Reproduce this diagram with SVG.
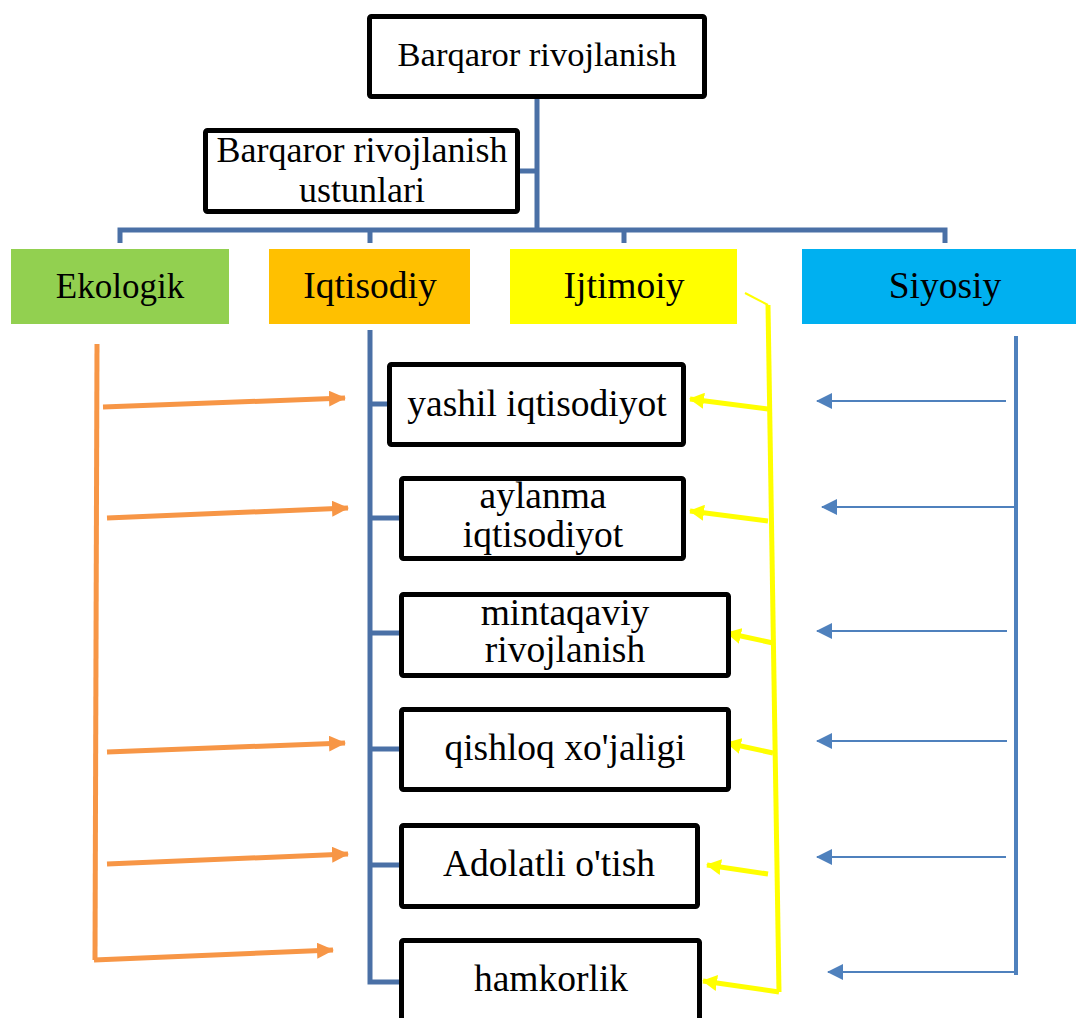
<svg xmlns="http://www.w3.org/2000/svg" width="1076" height="1018" viewBox="0 0 1076 1018">
<style>
.box{fill:#fff;stroke:#000;stroke-width:5;}
.t{font-family:"Liberation Serif","Times New Roman",serif;font-size:37.5px;fill:#000;text-anchor:middle;}
.tree{fill:none;stroke:#4A70A6;stroke-width:5;stroke-linejoin:miter;}
.or{fill:none;stroke:#F79646;stroke-width:5;}
.ye{fill:none;stroke:#FFFF00;stroke-width:5;}
.bl{fill:none;stroke:#4F81BD;stroke-width:2;}
</style>
<defs>
<marker id="aO" markerUnits="userSpaceOnUse" markerWidth="18" markerHeight="16" refX="16" refY="8" orient="auto">
<path d="M0,0 L17,8 L0,16 Z" fill="#F79646"/>
</marker>
<marker id="aY" markerUnits="userSpaceOnUse" markerWidth="16" markerHeight="16" refX="14" refY="8" orient="auto">
<path d="M0,0 L15,8 L0,16 Z" fill="#FFFF00"/>
</marker>
<marker id="aB" markerUnits="userSpaceOnUse" markerWidth="16" markerHeight="16" refX="15" refY="8" orient="auto">
<path d="M0,0 L16,8 L0,16 Z" fill="#4F81BD"/>
</marker>
</defs>
<rect width="1076" height="1018" fill="#fff"/>

<g id="connectors">
<path class="tree" d="M537,98 V230 M520,171 H537 M120,243 V230 H945 V243 M370,230 V243 M624,230 V243"/>
<path class="tree" d="M370,330 V982 H400 M370,404 H388 M370,518 H400 M370,633 H400 M370,749 H400 M370,865 H400"/>
<path class="or" d="M97,344 L95,960"/>
<line class="or" x1="103" y1="407" x2="345" y2="398" marker-end="url(#aO)"/>
<line class="or" x1="107" y1="518" x2="348" y2="508" marker-end="url(#aO)"/>
<line class="or" x1="107" y1="752" x2="345" y2="743" marker-end="url(#aO)"/>
<line class="or" x1="107" y1="864" x2="348" y2="854" marker-end="url(#aO)"/>
<line class="or" x1="94" y1="960" x2="333" y2="950" marker-end="url(#aO)"/>
<line x1="745" y1="293" x2="768" y2="305" stroke="#FFFF00" stroke-width="2"/>
<path class="ye" d="M768,305 L779,992"/>
<line class="ye" x1="768" y1="409" x2="690" y2="399" marker-end="url(#aY)"/>
<line class="ye" x1="768" y1="521" x2="690" y2="511" marker-end="url(#aY)"/>
<line class="ye" x1="773" y1="643" x2="727" y2="633" marker-end="url(#aY)"/>
<line class="ye" x1="773" y1="753" x2="727" y2="743" marker-end="url(#aY)"/>
<line class="ye" x1="768" y1="874" x2="707" y2="865" marker-end="url(#aY)"/>
<line class="ye" x1="779" y1="992" x2="703" y2="981" marker-end="url(#aY)"/>
<path d="M1016,336 V975" fill="none" stroke="#4F81BD" stroke-width="4"/>
<line class="bl" x1="1006" y1="401" x2="817" y2="401" marker-end="url(#aB)"/>
<line class="bl" x1="1014" y1="507" x2="822" y2="507" marker-end="url(#aB)"/>
<line class="bl" x1="1007" y1="631" x2="817" y2="631" marker-end="url(#aB)"/>
<line class="bl" x1="1007" y1="741" x2="817" y2="741" marker-end="url(#aB)"/>
<line class="bl" x1="1006" y1="857" x2="817" y2="857" marker-end="url(#aB)"/>
<line class="bl" x1="1016" y1="972" x2="828" y2="972" marker-end="url(#aB)"/>
</g>

<g id="n-top"><rect class="box" x="369.5" y="16.5" width="335" height="80" rx="2"/><text class="t" x="537" y="66" style="font-size:34.5px">Barqaror rivojlanish</text></g>
<g id="n-ustun"><rect class="box" x="205.5" y="130.5" width="312" height="81" rx="2"/><text class="t" x="362" y="162" style="font-size:36px"><tspan x="362" y="162">Barqaror rivojlanish</tspan><tspan x="362" y="202">ustunlari</tspan></text></g>

<g id="n-ekologik"><rect x="11" y="249" width="218" height="75" fill="#92D050"/><text class="t" x="120" y="298" style="font-size:35px">Ekologik</text></g>
<g id="n-iqtisodiy"><rect x="269" y="249" width="201" height="75" fill="#FFC000"/><text class="t" x="370" y="298">Iqtisodiy</text></g>
<g id="n-ijtimoiy"><rect x="510" y="249" width="227" height="75" fill="#FFFF00"/><text class="t" x="624" y="298">Ijtimoiy</text></g>
<g id="n-siyosiy"><rect x="802" y="249" width="274" height="75" fill="#00B0F0"/><text class="t" x="945" y="298">Siyosiy</text></g>

<g id="n-yashil"><rect class="box" x="389.5" y="364.5" width="294" height="80" rx="2"/><text class="t" x="537" y="416">yashil iqtisodiyot</text></g>
<g id="n-aylanma"><rect class="box" x="401.5" y="478.5" width="282" height="80" rx="2"/><text class="t" x="543" y="508"><tspan x="543" y="508">aylanma</tspan><tspan x="543" y="547">iqtisodiyot</tspan></text></g>
<g id="n-mintaqaviy"><rect class="box" x="401.5" y="594.5" width="327" height="81" rx="2"/><text class="t" x="565" y="625"><tspan x="565" y="625">mintaqaviy</tspan><tspan x="565" y="662">rivojlanish</tspan></text></g>
<g id="n-qishloq"><rect class="box" x="401.5" y="709.5" width="327" height="80" rx="2"/><text class="t" x="565" y="760">qishloq xo'jaligi</text></g>
<g id="n-adolatli"><rect class="box" x="401.5" y="825.5" width="296" height="81" rx="2"/><text class="t" x="549" y="876">Adolatli o'tish</text></g>
<g id="n-hamkorlik"><rect class="box" x="401.5" y="940.5" width="298" height="90" rx="2"/><text class="t" x="551" y="991">hamkorlik</text></g>
</svg>
